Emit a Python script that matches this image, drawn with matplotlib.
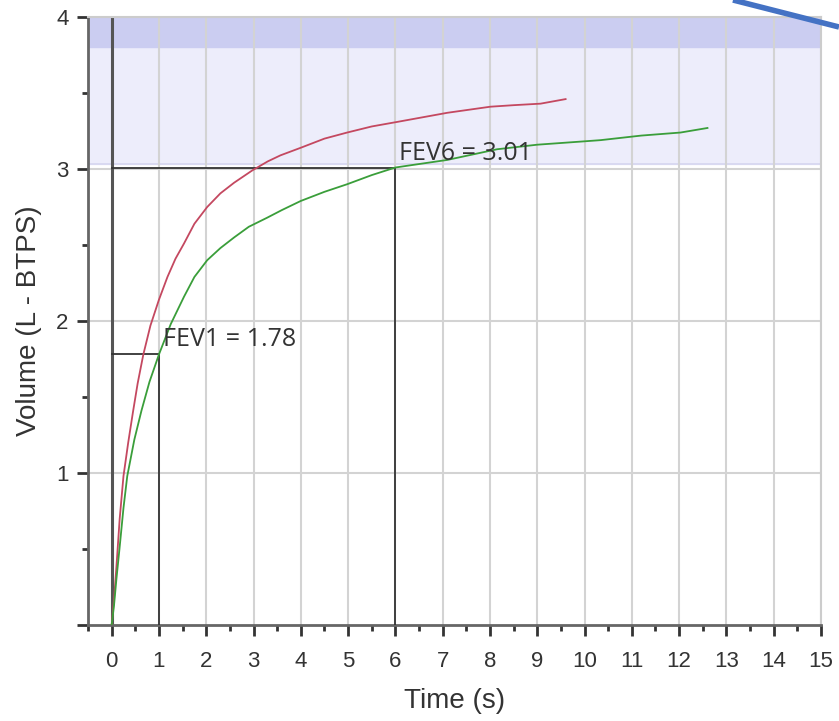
# spirometry volume-time curves with FEV1 / FEV6 markers
import numpy as np
import matplotlib.pyplot as plt
from matplotlib.ticker import MultipleLocator, FixedLocator
from matplotlib.lines import Line2D

# red trace (best effort)
red_t = [0, 0.05, 0.1, 0.17, 0.25, 0.35, 0.45, 0.55, 0.67, 0.82, 1.0, 1.18, 1.35,
         1.53, 1.75, 2.02, 2.3, 2.59, 2.97, 3.3, 3.57, 4.0, 4.5, 4.98, 5.5,
         6.04, 7.1, 8.01, 8.5, 9.07, 9.6]
red_v = [0, 0.17, 0.38, 0.7, 0.98, 1.2, 1.4, 1.59, 1.78, 1.97, 2.14, 2.29, 2.41,
         2.51, 2.64, 2.75, 2.84, 2.91, 2.99, 3.05, 3.09, 3.14, 3.2, 3.24, 3.28,
         3.31, 3.37, 3.41, 3.42, 3.43, 3.46]

# green trace
green_t = [0, 0.05, 0.1, 0.165, 0.25, 0.33, 0.48, 0.63, 0.8, 1.0, 1.25, 1.53, 1.75,
           2.02, 2.3, 2.59, 2.9, 3.29, 3.6, 4.0, 4.5, 4.98, 5.5, 6.0, 7.1, 8.15,
           9.0, 9.9, 10.34, 11.2, 12.03, 12.6]
green_v = [0, 0.13, 0.3, 0.5, 0.77, 0.98, 1.22, 1.41, 1.6, 1.78, 1.98, 2.16, 2.29,
           2.40, 2.48, 2.55, 2.62, 2.68, 2.73, 2.79, 2.85, 2.90, 2.96, 3.01, 3.06,
           3.13, 3.16, 3.18, 3.19, 3.22, 3.24, 3.27]

fev1 = 1.78
fev6 = 3.01
band_lo, band_mid, band_hi = 3.03, 3.8, 4.0
x_ticks = list(range(0, 16))
y_ticks = [0, 1, 2, 3, 4]
y_labels = ['', '1', '2', '3', '4']

fig = plt.figure(figsize=(8.39, 7.21), dpi=100)
ax = fig.add_axes([0.1049, 0.1331, 0.8736, 0.8433])
ax.set_xlim(-0.5, 15)
ax.set_ylim(0, 4)

# shaded predicted range
ax.axhspan(band_lo, band_mid, color='#ededfb', zorder=0)
ax.axhspan(band_mid, band_hi, color='#cbcdf1', zorder=0)
ax.axhline(band_lo, color='#d6d6f0', lw=1.2, zorder=0.5)

# grid
for x in x_ticks[1:]:
    ax.axvline(x, color='#d3d3d3', lw=1.5, zorder=1)
for y in y_ticks[1:]:
    ax.axhline(y, color='#d3d3d3', lw=1.5, zorder=1)
ax.axvline(0, color='#555555', lw=2.2, zorder=2)

# FEV boxes
ax.plot([0, 1, 1], [fev1, fev1, 0], color='#333333', lw=1.3, zorder=3)
ax.plot([0, 6, 6], [fev6, fev6, 0], color='#333333', lw=1.3, zorder=3)

ax.plot(red_t, red_v, color='#c44860', lw=1.3, zorder=4)
ax.plot(green_t, green_v, color='#3a9e3a', lw=1.3, zorder=4)

ax.text(1.08, 1.88, 'FEV1 = 1.78', fontsize=18, family='Open Sans',
        color='#333333', va='center', ha='left', zorder=5)
ax.text(6.07, 3.1, 'FEV6 = 3.01', fontsize=18, family='Open Sans',
        color='#333333', va='center', ha='left', zorder=5)

ax.xaxis.set_major_locator(FixedLocator(x_ticks))
ax.xaxis.set_minor_locator(MultipleLocator(0.5))
ax.yaxis.set_major_locator(FixedLocator(y_ticks))
ax.yaxis.set_minor_locator(MultipleLocator(0.5))
ax.set_xticklabels([str(t) for t in x_ticks], family='Liberation Sans')
ax.set_yticklabels(y_labels, family='Liberation Sans')
ax.tick_params(which='major', length=8, width=2, color='#333333',
               labelsize=16, labelcolor='#333333')
ax.tick_params(axis='x', which='major', pad=11)
ax.tick_params(axis='y', which='major', pad=6)
ax.tick_params(which='minor', length=4, width=2, color='#333333')

for s in ['left', 'bottom']:
    ax.spines[s].set_color('#666666')
    ax.spines[s].set_linewidth(2)
for s in ['top', 'right']:
    ax.spines[s].set_color('#cccccc')
    ax.spines[s].set_linewidth(1.5)

ax.set_xlabel('Time (s)', fontsize=20, family='Liberation Sans',
              color='#333333', labelpad=11)
ax.set_ylabel('Volume (L - BTPS)', fontsize=20, family='Liberation Sans',
              color='#333333', labelpad=10)

# blue stroke in top right corner
fig.add_artist(Line2D([733 / 839, 1.0], [1.0, 1 - 27 / 721],
                      transform=fig.transFigure, color='#4472c4', lw=4,
                      solid_capstyle='butt'))

fig.savefig('out.png', dpi=100, facecolor='white')
